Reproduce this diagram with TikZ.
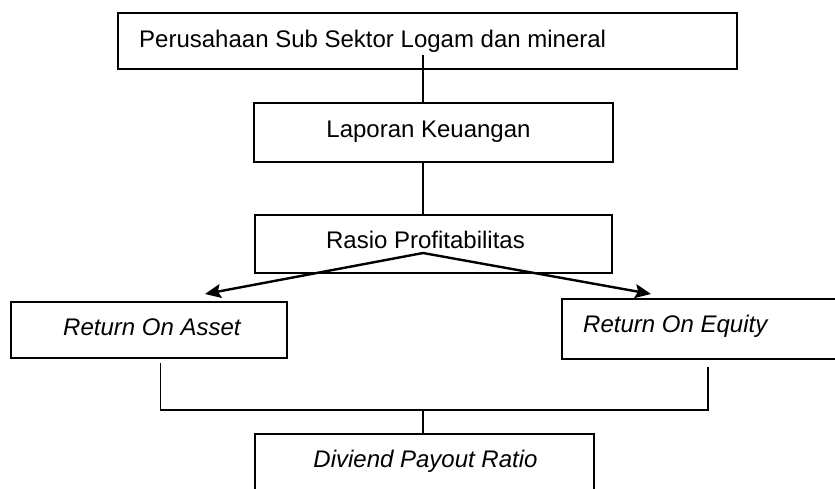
\documentclass[tikz,border=0pt]{standalone}
\usepackage{fontspec}
\setmainfont{Liberation Sans}
\usetikzlibrary{arrows.meta}
\begin{document}
\begin{tikzpicture}[x=1pt,y=-1pt,
  box/.style={draw=black, line width=1.6pt, rectangle, inner sep=0pt},
  lbl/.style={inner sep=0pt, font=\fontsize{24}{28}\selectfont},
  ilbl/.style={inner sep=0pt, font=\fontsize{24}{28}\selectfont\itshape},
  thickline/.style={line width=2.2pt},
  thinline/.style={line width=1.4pt},
  arr/.style={line width=2.4pt, -{Stealth[length=16pt,width=14pt,inset=3pt]}}
]
\useasboundingbox (0,0) rectangle (835,488);
\clip (0,0) rectangle (835,488);
% boxes
\node[box, minimum width=619pt, minimum height=56pt] (top) at (427.5,41) {};
\node[box, minimum width=359pt, minimum height=59pt] (lap) at (433.5,132.5) {};
\node[box, minimum width=357pt, minimum height=58pt] (ras) at (433.5,244) {};
\node[box, minimum width=276pt, minimum height=56pt] (roa) at (149,330) {};
\node[box, minimum width=290pt, minimum height=60pt] (roe) at (707,329) {};
\node[box, minimum width=339pt, minimum height=70pt] (div) at (424.5,469) {};
% texts
\node[lbl, anchor=base west] (ttop) at (139,47) {Perusahaan Sub Sektor Logam dan mineral};
\node[lbl, anchor=base] (tlap) at (428.5,137) {Laporan Keuangan};
\node[lbl, anchor=base] (tras) at (425.5,248) {Rasio Profitabilitas};
\node[ilbl, anchor=base west] (troa) at (63,335) {Return On Asset};
\node[ilbl, anchor=base west] (troe) at (583,332) {Return On Equity};
\node[ilbl, anchor=base] (tdiv) at (425.5,467) {Diviend Payout Ratio};
% connector points
\coordinate (c1) at (423,55);
\coordinate (a0) at (423,253);
\coordinate (tipL) at (205,294);
\coordinate (tipR) at (651,294);
\coordinate (roaL) at (160.6,363);
\coordinate (jL) at (160.6,410);
\coordinate (jR) at (708,410);
\coordinate (roeL) at (708,367);
\coordinate (jM) at (423,410);
% connectors
\draw[thickline] (c1) -- (c1 |- lap.north);
\draw[thickline] (c1 |- lap.south) -- (c1 |- ras.north);
\draw[arr] (a0) -- (tipL);
\draw[arr] (a0) -- (tipR);
\draw[thinline] (roaL) -- (jL) -- (jR) -- (roeL);
\draw[thinline] (jM) -- (jM |- div.north);
\end{tikzpicture}
\end{document}
